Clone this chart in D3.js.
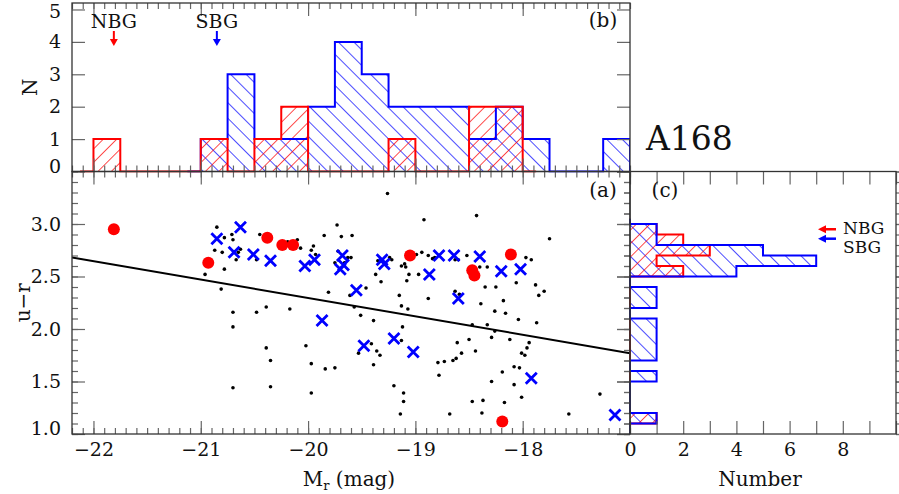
<!DOCTYPE html>
<html>
<head>
<meta charset="utf-8">
<script src="https://cdn.jsdelivr.net/npm/d3@7"></script>
<style>
body { margin: 0; background: #fff; }
text { font-family: "DejaVu Serif", serif; fill: #111; }
</style>
</head>
<body>
<div id="chart"></div>
<script>
// ---- data ----
// field galaxies (black dots)
var fieldMag = [-20.85,-20.71,-20.70,-20.78,-20.87,-20.80,-20.67,-20.65,-20.63,-20.78,-20.96,-20.81,-20.45,-20.48,-20.19,-20.10,-20.07,-19.85,-19.73,-19.95,
  -19.97,-19.93,-19.75,-19.72,-19.81,-20.39,-20.17,-20.70,-20.48,-20.70,-20.39,-20.02,-20.35,-19.97,-19.84,-19.75,-20.70,-20.35,-19.97,-19.53,
  -19.61,-19.57,-19.51,-19.39,-19.26,-18.92,-18.43,-17.75,-19.69,-19.59,-19.63,-19.60,-19.66,-19.24,-19.22,-19.35,-19.13,-19.10,-19.09,-18.99,
  -18.94,-18.88,-18.84,-18.82,-18.63,-18.60,-18.52,-19.06,-18.97,-19.37,-19.32,-19.08,-19.46,-19.15,-18.88,-18.63,-18.59,-18.40,-18.33,-18.35,
  -19.13,-19.07,-18.39,-17.97,-17.92,-18.25,-18.06,-17.88,-17.80,-17.85,-18.18,-18.26,-18.16,-18.04,-17.87,-18.33,-18.26,-18.29,-18.12,-17.94,
  -17.96,-18.01,-17.98,-18.08,-18.03,-18.29,-18.08,-18.01,-18.37,-18.17,-18.38,-17.28,-17.57,-19.39,-19.41,-19.36,-19.33,-19.13,-19.12,-19.20,
  -19.11,-19.11,-19.14,-18.79,-18.73,-18.65,-18.62,-18.57,-18.61,-18.50,-18.44,-18.78,-18.47,-18.68,-18.47,-18.19];
var fieldColor = [2.97,2.90,2.85,2.87,2.75,2.73,2.66,2.73,2.76,2.57,2.52,2.38,2.90,2.66,2.83,2.85,2.77,2.89,2.99,2.79,
  2.75,2.71,2.63,2.74,2.35,2.21,2.19,2.16,2.16,2.02,1.82,1.84,1.70,1.67,1.62,1.63,1.44,1.45,1.39,1.77,
  2.32,2.21,2.13,2.08,3.29,3.04,3.08,2.86,2.88,2.89,2.68,2.68,2.63,2.68,2.66,2.65,2.60,2.62,2.59,2.71,
  2.73,2.70,2.67,2.68,2.66,2.66,2.70,2.52,2.52,2.52,2.45,2.46,2.39,2.32,2.29,2.36,2.33,2.59,2.59,2.40,
  2.22,2.19,2.24,2.68,2.66,2.40,2.44,2.42,2.36,2.32,2.27,2.17,2.15,2.09,2.06,2.04,1.98,1.92,1.90,1.87,
  1.82,1.77,1.75,1.64,1.63,1.50,1.47,1.35,1.32,1.30,1.20,1.38,1.19,1.66,1.86,1.79,1.75,1.89,2.02,1.46,
  1.39,1.31,1.19,1.68,1.69,1.70,1.72,1.77,1.87,1.90,1.79,1.56,2.04,1.19,1.31,1.59];

// NBG members (red circles)
var nbgMag = [-21.81,-20.93,-20.38,-20.24,-20.14,-19.05,-18.47,-18.45,-18.11,-18.19];
var nbgColor = [2.95,2.63,2.87,2.80,2.80,2.70,2.56,2.51,2.71,1.12];

// SBG members (blue crosses)
var sbgMag = [-20.85,-20.63,-20.69,-20.51,-20.35,-20.03,-19.94,-19.70,-19.67,-19.68,-19.87,-19.55,-19.31,
  -19.29,-18.87,-18.78,-18.64,-18.40,-18.60,-18.20,-18.02,-17.92,-17.14,-19.48,-19.20,-19.02];
var sbgColor = [2.86,2.97,2.73,2.71,2.65,2.60,2.66,2.57,2.61,2.70,2.08,2.37,2.66,
  2.62,2.52,2.70,2.70,2.69,2.29,2.55,2.57,1.53,1.18,1.84,1.91,1.78];

// brightest galaxies of each group
var bcgNames = ["NBG", "SBG"];
var bcgMag = [-21.81, -20.85];
var bcgColor = [2.95, 2.86];

// colour-magnitude relation u-r = fitA + fitB * Mr
var fitA = -1.205, fitB = -0.175;

// magnitude histograms (panel b), bins of 0.25 mag
var magBin = 0.25;
var nbgMagStart = -22.0;
var nbgMagCounts = [1,0,0,0,1,0,1,2,0,0,0,1,0,0,2,2];
var sbgMagStart = -21.0;
var sbgMagCounts = [1,3,1,1,2,4,3,2,2,2,1,2,1,0,0,1];

// colour histograms (panel c), bins of 0.1 mag from u-r = 1.0
var colBin = 0.1;
var colStart = 1.0;
var nbgColCounts = [0,1,0,0,0,0,0,0,0,0,0,0,0,0,0,2,1,3,2,1];
var sbgColCounts = [0,1,0,0,0,1,0,1,1,1,1,0,1,1,0,4,7,5,1,1];

var magTicks = [-22,-21,-20,-19,-18];
var colTicks = [1.0,1.5,2.0,2.5,3.0];
var nTicks = [0,1,2,3,4,5];
var numTicks = [0,2,4,6,8];

// ---- layout ----
var W = 899, H = 494;
var xL = 72, xM = 630, xR = 896;
var yT = 3, yM = 171.5, yB = 434;
var RED = "#ff0000", BLUE = "#0000ff";
var FS = 19;

var svg = d3.select("#chart").append("svg").attr("width", W).attr("height", H);
var defs = svg.append("defs");

var x = d3.scaleLinear().domain([-22.2, -17.0]).range([xL, xM]);
var y = d3.scaleLinear().domain([1.0, 3.5]).range([yB, yM]);
var yN = d3.scaleLinear().domain([0, 5.2]).range([yM, yT]);
var xN = d3.scaleLinear().domain([0, 10]).range([xM, xR]);

function hatch(id, color, angle, gap) {
  defs.append("pattern").attr("id", id).attr("patternUnits", "userSpaceOnUse")
    .attr("width", gap).attr("height", gap).attr("patternTransform", "rotate(" + angle + ")")
    .append("line").attr("x1", 0).attr("y1", -1).attr("x2", 0).attr("y2", gap + 1)
    .attr("stroke", color).attr("stroke-width", 1.4);
}
hatch("hRed", RED, 45, 9.5);
hatch("hBlue", BLUE, -45, 11);

function clip(id, x0, y0, x1, y1) {
  defs.append("clipPath").attr("id", id).append("rect")
    .attr("x", x0).attr("y", y0).attr("width", x1 - x0).attr("height", y1 - y0);
}
clip("cb", xL, yT, xM, yM + 1);
clip("ca", xL, yM, xM, yB);
clip("cc", xM - 1, yM, xR, yB);

// step points with half-bin zero tails
function steps(start, bw, counts) {
  var pts = [[start - bw / 2, 0], [start, 0]];
  counts.forEach(function(c, i) {
    pts.push([start + i * bw, c]);
    pts.push([start + (i + 1) * bw, c]);
  });
  var end = start + counts.length * bw;
  pts.push([end, 0]);
  pts.push([end + bw / 2, 0]);
  return pts;
}

// ---- panel (b): magnitude histograms ----
var gb = svg.append("g").attr("clip-path", "url(#cb)");
var lineB = d3.line().x(function(d) { return x(d[0]); }).y(function(d) { return yN(d[1]); });
var sbgB = steps(sbgMagStart, magBin, sbgMagCounts);
var nbgB = steps(nbgMagStart, magBin, nbgMagCounts);
gb.append("path").attr("d", lineB(sbgB)).attr("fill", "url(#hBlue)").attr("stroke", "none");
gb.append("path").attr("d", lineB(nbgB)).attr("fill", "url(#hRed)").attr("stroke", "none");
gb.append("path").attr("d", lineB(sbgB)).attr("fill", "none").attr("stroke", BLUE).attr("stroke-width", 2);
gb.append("path").attr("d", lineB(nbgB)).attr("fill", "none").attr("stroke", RED).attr("stroke-width", 2);

// ---- panel (c): colour histograms ----
var gc = svg.append("g").attr("clip-path", "url(#cc)");
var lineC = d3.line().x(function(d) { return xN(d[1]); }).y(function(d) { return y(d[0]); });
var sbgC = steps(colStart, colBin, sbgColCounts);
var nbgC = steps(colStart, colBin, nbgColCounts);
gc.append("path").attr("d", lineC(sbgC)).attr("fill", "url(#hBlue)").attr("stroke", "none");
gc.append("path").attr("d", lineC(nbgC)).attr("fill", "url(#hRed)").attr("stroke", "none");
gc.append("path").attr("d", lineC(nbgC)).attr("fill", "none").attr("stroke", RED).attr("stroke-width", 2);
gc.append("path").attr("d", lineC(sbgC)).attr("fill", "none").attr("stroke", BLUE).attr("stroke-width", 2);

// ---- panel (a): colour-magnitude diagram ----
var ga = svg.append("g").attr("clip-path", "url(#ca)");
ga.append("line")
  .attr("x1", x(-22.2)).attr("y1", y(fitA + fitB * -22.2))
  .attr("x2", x(-17.0)).attr("y2", y(fitA + fitB * -17.0))
  .attr("stroke", "#000").attr("stroke-width", 2);
ga.selectAll("circle.field").data(fieldMag).enter().append("circle")
  .attr("cx", function(d) { return x(d); })
  .attr("cy", function(d, i) { return y(fieldColor[i]); })
  .attr("r", 1.8).attr("fill", "#000");
ga.selectAll("circle.nbg").data(nbgMag).enter().append("circle")
  .attr("cx", function(d) { return x(d); })
  .attr("cy", function(d, i) { return y(nbgColor[i]); })
  .attr("r", 6).attr("fill", RED);
ga.selectAll("path.sbg").data(sbgMag).enter().append("path")
  .attr("transform", function(d, i) { return "translate(" + x(d) + "," + y(sbgColor[i]) + ")"; })
  .attr("d", "M-5.5,-5.5L5.5,5.5M-5.5,5.5L5.5,-5.5")
  .attr("stroke", BLUE).attr("stroke-width", 2.8).attr("fill", "none");

// ---- axes ----
function ticks(gen, at, vals, size, fmt) {
  var g = svg.append("g").attr("transform", at)
    .call(gen.tickValues(vals).tickSize(size).tickPadding(9).tickFormat(fmt || function() { return ""; }));
  g.select(".domain").remove();
  g.selectAll("line").attr("stroke", "#666").attr("stroke-width", 1.2);
  g.selectAll("text").attr("font-size", FS).attr("font-family", "DejaVu Serif").attr("fill", "#111");
  return g;
}
var minorMag = d3.range(-222, -169).map(function(v) { return v / 10; });
var minorCol = d3.range(10, 36).map(function(v) { return v / 10; });
var halfCol = [1.0, 1.5, 2.0, 2.5, 3.0, 3.5];
var fmtMag = d3.format("d"), fmtCol = d3.format(".1f");

// panel a
ticks(d3.axisBottom(x), "translate(0," + yB + ")", minorMag, -6);
ticks(d3.axisBottom(x), "translate(0," + yB + ")", magTicks, -13, fmtMag);
ticks(d3.axisTop(x), "translate(0," + yM + ")", minorMag, -6);
ticks(d3.axisTop(x), "translate(0," + yM + ")", magTicks, -13);
ticks(d3.axisLeft(y), "translate(" + xL + ",0)", minorCol, -6);
var ya = ticks(d3.axisLeft(y), "translate(" + xL + ",0)", colTicks, -13, fmtCol);
ya.selectAll("text").attr("dx", -2).filter(function(d) { return d === 1.0; }).attr("dy", "0.05em");
ticks(d3.axisRight(y), "translate(" + xM + ",0)", minorCol, -6);
ticks(d3.axisRight(y), "translate(" + xM + ",0)", halfCol, -13);

// panel b
ticks(d3.axisTop(x), "translate(0," + yT + ")", minorMag, -6);
ticks(d3.axisTop(x), "translate(0," + yT + ")", magTicks, -13);
ticks(d3.axisBottom(x), "translate(0," + yM + ")", minorMag, -6);
ticks(d3.axisBottom(x), "translate(0," + yM + ")", magTicks, -13);
var yb = ticks(d3.axisLeft(yN), "translate(" + xL + ",0)", nTicks, -13, d3.format("d"));
yb.selectAll("text").attr("dx", -2).filter(function(d) { return d === 0; }).attr("dy", "0.05em");
yb.selectAll("text").filter(function(d) { return d === 5; }).attr("dy", "0.4em");
ticks(d3.axisRight(yN), "translate(" + xM + ",0)", nTicks, -13);

// panel c
ticks(d3.axisBottom(xN), "translate(0," + yB + ")", d3.range(0, 11), -13,
  function(d) { return numTicks.indexOf(d) >= 0 ? d : ""; });
ticks(d3.axisTop(xN), "translate(0," + yM + ")", d3.range(0, 11), -13);
ticks(d3.axisLeft(y), "translate(" + xR + ",0)", minorCol, -6);
ticks(d3.axisLeft(y), "translate(" + xR + ",0)", halfCol, -13);
ticks(d3.axisRight(y), "translate(" + xM + ",0)", minorCol, -6);
ticks(d3.axisRight(y), "translate(" + xM + ",0)", halfCol, -13);

// frames
[[xL, yT, xM, yM], [xL, yM, xM, yB], [xM, yM, xR, yB]].forEach(function(b) {
  svg.append("rect").attr("x", b[0]).attr("y", b[1]).attr("width", b[2] - b[0]).attr("height", b[3] - b[1])
    .attr("fill", "none").attr("stroke", "#333").attr("stroke-width", 1.3);
});

// ---- labels ----
svg.append("text").attr("transform", "translate(37," + ((yT + yM) / 2) + ") rotate(-90)")
  .attr("text-anchor", "middle").attr("font-size", 20).text("N");
svg.append("text").attr("transform", "translate(30," + ((yM + yB) / 2) + ") rotate(-90)")
  .attr("text-anchor", "middle").attr("font-size", 20).text("u\u2212r");
var xl = svg.append("text").attr("x", 349).attr("y", 486).attr("text-anchor", "middle").attr("font-size", 20);
xl.append("tspan").text("M");
xl.append("tspan").attr("font-size", 13).attr("dy", 4).text("r");
xl.append("tspan").attr("dy", -4).text(" (mag)");
svg.append("text").attr("x", 760).attr("y", 486).attr("text-anchor", "middle").attr("font-size", 20).text("Number");

svg.append("text").attr("x", 603).attr("y", 27).attr("text-anchor", "middle").attr("font-size", 20).text("(b)");
svg.append("text").attr("x", 603).attr("y", 197).attr("text-anchor", "middle").attr("font-size", 20).text("(a)");
svg.append("text").attr("x", 665).attr("y", 197).attr("text-anchor", "middle").attr("font-size", 20).text("(c)");
svg.append("text").attr("x", 646).attr("y", 150).attr("font-size", 33).attr("font-family", "Liberation Mono").text("A168");

// BCG markers: arrows in (b) and (c)
var bcgFill = [RED, BLUE];
var bcgTextDy = [5, 14];
bcgNames.forEach(function(name, i) {
  var bx = x(bcgMag[i]);
  svg.append("text").attr("x", bx).attr("y", 28).attr("text-anchor", "middle").attr("font-size", 19).text(name);
  svg.append("line").attr("x1", bx).attr("y1", 31).attr("x2", bx).attr("y2", 42)
    .attr("stroke", bcgFill[i]).attr("stroke-width", 2);
  svg.append("path").attr("d", "M" + (bx - 4) + ",39L" + bx + ",46L" + (bx + 4) + ",39Z").attr("fill", bcgFill[i]);

  var by = y(bcgColor[i]);
  svg.append("line").attr("x1", 836).attr("y1", by).attr("x2", 823).attr("y2", by)
    .attr("stroke", bcgFill[i]).attr("stroke-width", 2.5);
  svg.append("path").attr("d", "M826," + (by - 4) + "L818," + by + "L826," + (by + 4) + "Z").attr("fill", bcgFill[i]);
  svg.append("text").attr("x", 843).attr("y", by + bcgTextDy[i]).attr("font-size", 17).text(name);
});
</script>
</body>
</html>
